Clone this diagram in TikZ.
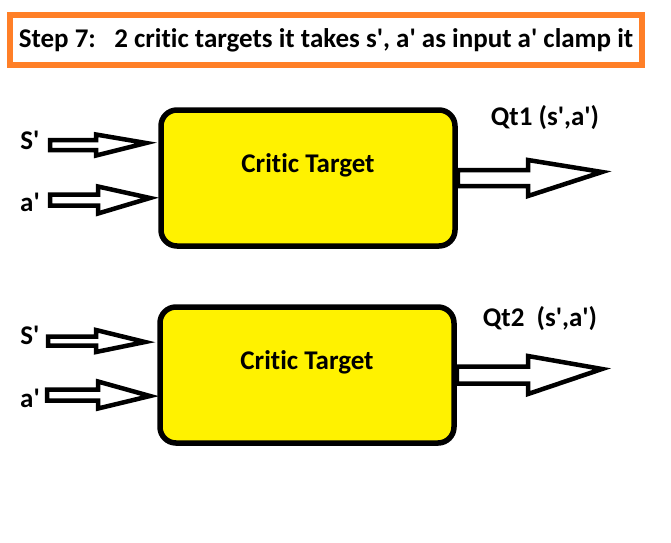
\documentclass[tikz,border=0pt]{standalone}
\usepackage{fontspec}
\setmainfont{Carlito}[Ligatures={TeXOff,NoCommon}]
\usetikzlibrary{calc}
\definecolor{PaintYellow}{RGB}{255,242,0}
\definecolor{PaintOrange}{RGB}{255,127,39}

% hollow block arrow: tail, tip, body half width, head half width, head length
\newcommand{\blockarrow}[5]{%
  \draw[blk] let \p1=(#1), \p2=(#2) in
    (\x1,\y1+#3) -- (\x2-#5,\y1+#3) -- (\x2-#5,\y1+#4) -- (\p2)
    -- (\x2-#5,\y1-#4) -- (\x2-#5,\y1-#3) -- (\x1,\y1-#3) -- cycle;}

\begin{document}
\begin{tikzpicture}[x=1pt, y=-1pt,
      title/.style={rectangle, draw=PaintOrange, line width=6pt,
                    minimum width=632pt, minimum height=50pt,
                    font=\fontsize{27}{32}\selectfont\bfseries},
      critic/.style={rectangle, rounded corners=16pt, draw=black,
                     fill=PaintYellow, line width=5.5pt,
                     minimum width=294pt, minimum height=136pt},
      txt/.style={font=\fontsize{27}{32}\selectfont\bfseries, inner sep=0pt},
      blk/.style={draw=black, fill=white, line width=4.5pt, line join=miter}
    ]
    \useasboundingbox (0,0) rectangle (671,542);

    %--- Title ---
    \node[title] (title) at (326,40)
          {Step 7:\ \ \ 2 critic targets it takes s', a' as input a' clamp it};

    %--- Critic target 1 ---
    \node[critic] (ct1) at (308,178) {};
    \node[txt] (ct1txt) at (308,165) {Critic Target};
    \node[txt] (s1) at (30,140) {S'};
    \node[txt] (a1) at (30,202) {a'};
    \node[txt] (q1) at (545,118) {Qt1 (s',a')};
    \coordinate (s1tail) at (50,145);
    \coordinate (s1tip) at (146,143);
    \coordinate (a1tail) at (50,200);
    \coordinate (a1tip) at (150,198);
    \coordinate (q1tip) at (602,172);
    \blockarrow{s1tail}{s1tip}{5}{10.5}{50}
    \blockarrow{a1tail}{a1tip}{5.5}{13.5}{52}
    \blockarrow{ct1.east}{q1tip}{8}{18}{74}

    %--- Critic target 2 ---
    \node[critic] (ct2) at (307,375) {};
    \node[txt] (ct2txt) at (307,362) {Critic Target};
    \node[txt] (s2) at (30,335) {S'};
    \node[txt] (a2) at (30,398) {a'};
    \node[txt] (q2) at (540,319) {Qt2\ \ (s',a')};
    \coordinate (s2tail) at (48,341);
    \coordinate (s2tip) at (145,342);
    \coordinate (a2tail) at (47,395);
    \coordinate (a2tip) at (150,396);
    \coordinate (q2tip) at (602,369);
    \blockarrow{s2tail}{s2tip}{4.5}{11}{49}
    \blockarrow{a2tail}{a2tip}{5.5}{13.5}{52}
    \blockarrow{ct2.east}{q2tip}{8.5}{19}{74}
  \end{tikzpicture}
\end{document}
